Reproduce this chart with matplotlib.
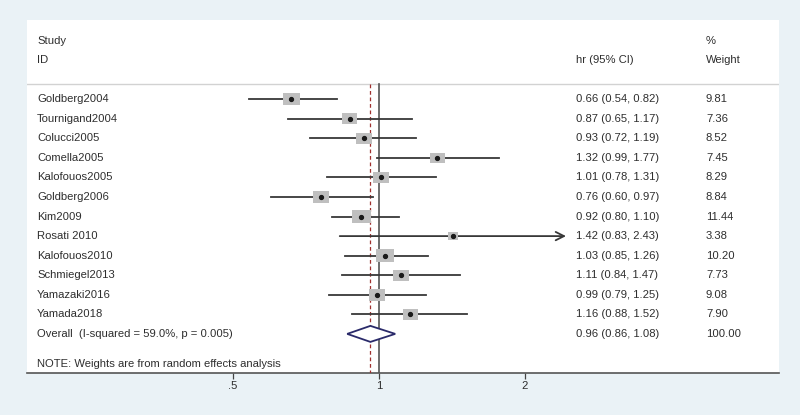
"""Forest plot of hazard ratios (random effects meta-analysis), Stata metan look."""

import matplotlib

matplotlib.use("Agg")
import matplotlib.pyplot as plt
from matplotlib.path import Path
import numpy as np

STUDIES = [
    "Goldberg2004", "Tournigand2004", "Colucci2005", "Comella2005",
    "Kalofouos2005", "Goldberg2006", "Kim2009", "Rosati 2010",
    "Kalofouos2010", "Schmiegel2013", "Yamazaki2016", "Yamada2018",
]
HR = [0.66, 0.87, 0.93, 1.32, 1.01, 0.76, 0.92, 1.42, 1.03, 1.11, 0.99, 1.16]
CI_LOW = [0.54, 0.65, 0.72, 0.99, 0.78, 0.60, 0.80, 0.83, 0.85, 0.84, 0.79, 0.88]
CI_HIGH = [0.82, 1.17, 1.19, 1.77, 1.31, 0.97, 1.10, 2.43, 1.26, 1.47, 1.25, 1.52]
WEIGHTS = [9.81, 7.36, 8.52, 7.45, 8.29, 8.84, 11.44, 3.38, 10.20, 7.73, 9.08, 7.90]
ARROW_STUDIES = ["Rosati 2010"]

OVERALL_LABEL = "Overall  (I-squared = 59.0%, p = 0.005)"
OVERALL = (0.96, 0.86, 1.08)
OVERALL_WEIGHT = 100.00
NOTE = "NOTE: Weights are from random effects analysis"

X_TICKS = [0.5, 1, 2]
X_TICK_LABELS = [".5", "1", "2"]

TEXT_COLOR = "#2e2e2e"
LINE_COLOR = "#383838"
BOX_COLOR = "#bfbfbf"
BG_COLOR = "#eaf2f6"

plt.rcParams["font.family"] = ["Liberation Sans", "DejaVu Sans"]
FS = 8.1

fig = plt.figure(figsize=(8.0, 4.15), dpi=100, facecolor=BG_COLOR)
ax = fig.add_axes([27 / 800, 42 / 415, 752 / 800, 353 / 415])
ax.set_facecolor("white")

ax.set_xscale("log", base=2)
ax.set_xlim(2 ** (-352 / 146), 2 ** (400 / 146))
ax.set_ylim(14, -4.05)

rows = np.arange(len(STUDIES))
header_y = -0.77

# reference lines
ax.axhline(header_y, color="#d2d2d2", linewidth=1.0)
ax.plot([1, 1], [header_y, 14], color="#555555", linewidth=1.2, zorder=2)
ax.plot([OVERALL[0], OVERALL[0]], [header_y, 14], color="#a0302f",
        linewidth=0.9, linestyle=(0, (3, 2.2)), zorder=3)

# confidence intervals
for y, name, lo, hi in zip(rows, STUDIES, CI_LOW, CI_HIGH):
    if name in ARROW_STUDIES:
        ax.annotate("", xy=(hi, y), xytext=(lo, y),
                    arrowprops=dict(arrowstyle="->", color=LINE_COLOR,
                                    linewidth=1.3, mutation_scale=15,
                                    shrinkA=0, shrinkB=0), zorder=4)
    else:
        ax.plot([lo, hi], [y, y], color=LINE_COLOR, linewidth=1.3, zorder=4)

# weight boxes (area proportional to weight)
box = Path([(-1, -0.72), (1, -0.72), (1, 0.72), (-1, 0.72), (-1, -0.72)],
           [Path.MOVETO, Path.LINETO, Path.LINETO, Path.LINETO, Path.CLOSEPOLY])
ax.scatter(HR, rows, s=np.array(WEIGHTS) * 15.5, marker=box,
           color=BOX_COLOR, linewidths=0, zorder=5)
ax.plot(HR, rows, linestyle="none", marker="o", markersize=2.8,
        color="#1a1a1a", zorder=6)

# overall diamond
oy = len(STUDIES)
est, olo, ohi = OVERALL
ax.fill([olo, est, ohi, est, olo], [oy, oy - 0.41, oy, oy + 0.41, oy],
        facecolor="white", edgecolor="#2a2a6a", linewidth=1.3, zorder=5)

# text columns
tr = ax.get_yaxis_transform()
x_name, x_hr, x_wt = 10 / 752, 549 / 752, 679 / 752
kw = dict(transform=tr, fontsize=FS, color=TEXT_COLOR, va="center", ha="left")

ax.text(x_name, -3, "Study", **kw)
ax.text(x_name, -2, "ID", **kw)
ax.text(x_hr, -2, "hr (95% CI)", **kw)
ax.text(x_wt, -3, "%", **kw)
ax.text(x_wt, -2, "Weight", **kw)

for y, name, h, lo, hi, w in zip(rows, STUDIES, HR, CI_LOW, CI_HIGH, WEIGHTS):
    ax.text(x_name, y, name, **kw)
    ax.text(x_hr, y, f"{h:.2f} ({lo:.2f}, {hi:.2f})", **kw)
    ax.text(x_wt, y, f"{w:.2f}", **kw)

ax.text(x_name, oy, OVERALL_LABEL, **kw)
ax.text(x_hr, oy, f"{est:.2f} ({olo:.2f}, {ohi:.2f})", **kw)
ax.text(x_wt, oy, f"{OVERALL_WEIGHT:.2f}", **kw)
ax.text(x_name, 13.52, NOTE, **kw)

# axes styling
for side in ("top", "left", "right"):
    ax.spines[side].set_visible(False)
ax.spines["bottom"].set_color("#555555")
ax.spines["bottom"].set_linewidth(1.2)
ax.set_yticks([])
ax.set_xticks(X_TICKS)
ax.set_xticklabels(X_TICK_LABELS)
ax.xaxis.set_minor_locator(matplotlib.ticker.NullLocator())
ax.tick_params(axis="x", direction="out", length=4, width=0.9,
               colors="#444444", labelsize=FS, labelcolor=TEXT_COLOR, pad=2)

fig.savefig("out.png", dpi=100, facecolor=BG_COLOR)
